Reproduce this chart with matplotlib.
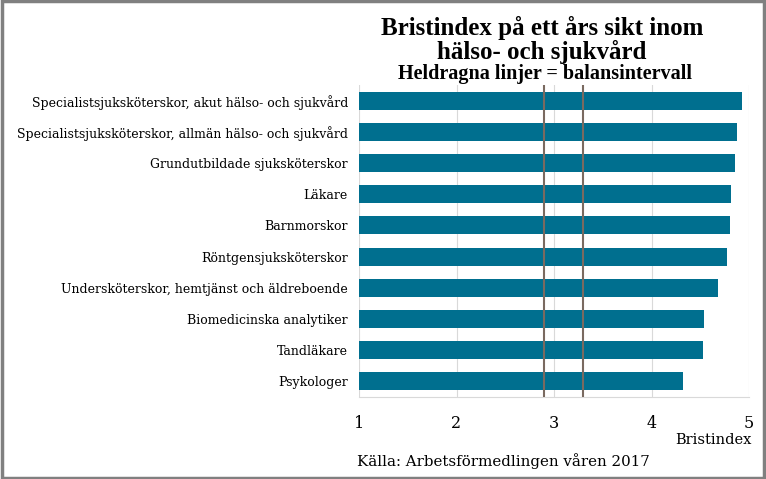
import matplotlib.pyplot as plt

categories = [
    "Specialistsjuksköterskor, akut hälso- och sjukvård",
    "Specialistsjuksköterskor, allmän hälso- och sjukvård",
    "Grundutbildade sjuksköterskor",
    "Läkare",
    "Barnmorskor",
    "Röntgensjuksköterskor",
    "Undersköterskor, hemtjänst och äldreboende",
    "Biomedicinska analytiker",
    "Tandläkare",
    "Psykologer",
]
values = [4.93, 4.88, 4.86, 4.82, 4.80, 4.77, 4.68, 4.54, 4.53, 4.32]
balance = [2.9, 3.3]
xticks = [1, 2, 3, 4, 5]

bar_color = "#006F8F"
serif = ["DejaVu Serif"]

fig = plt.figure(figsize=(7.66, 4.79), dpi=100)
ax = fig.add_axes([359 / 766, 1 - 397 / 479, 390 / 766, 312 / 479])

y = list(range(len(categories)))
ax.barh(y, [v - 1 for v in values], left=1, height=0.58, color=bar_color, zorder=2)
ax.set_ylim(len(categories) - 0.5, -0.5)
ax.set_xlim(1, 5)
ax.set_yticks(y)
ax.set_yticklabels(categories, family=serif, fontsize=9)
ax.set_xticks(xticks)
ax.set_xticklabels([str(t) for t in xticks], family=serif, fontsize=11.5)
ax.tick_params(length=0, pad=8)
ax.tick_params(axis="x", pad=13)
ax.grid(axis="x", color="#d9d9d9", linewidth=0.8, zorder=0)
for s in ["top", "right", "left"]:
    ax.spines[s].set_visible(False)
ax.spines["bottom"].set_color("#d9d9d9")

for b in balance:
    ax.axvline(b, color="#7a6a60", linewidth=1.5, zorder=3)

fig.text(542 / 766, 1 - 40 / 479, "Bristindex på ett års sikt inom\nhälso- och sjukvård",
         ha="center", va="center", family="Liberation Serif", fontweight="bold",
         fontsize=18, linespacing=0.95)
fig.text(545 / 766, 1 - 74 / 479, "Heldragna linjer = balansintervall",
         ha="center", va="center", family="Liberation Serif", fontweight="bold", fontsize=14.5)
fig.text(752 / 766, 1 - 440 / 479, "Bristindex", ha="right", va="center",
         family=serif, fontsize=10.5)
fig.text(503 / 766, 1 - 461 / 479, "Källa: Arbetsförmedlingen våren 2017", ha="center",
         va="center", family=serif, fontsize=10.8)

fig.patches.append(plt.Rectangle((0.002, 0.003), 0.996, 0.994, transform=fig.transFigure,
                                 fill=False, edgecolor="#808080", linewidth=2.5))

fig.savefig("out.png", dpi=100)
